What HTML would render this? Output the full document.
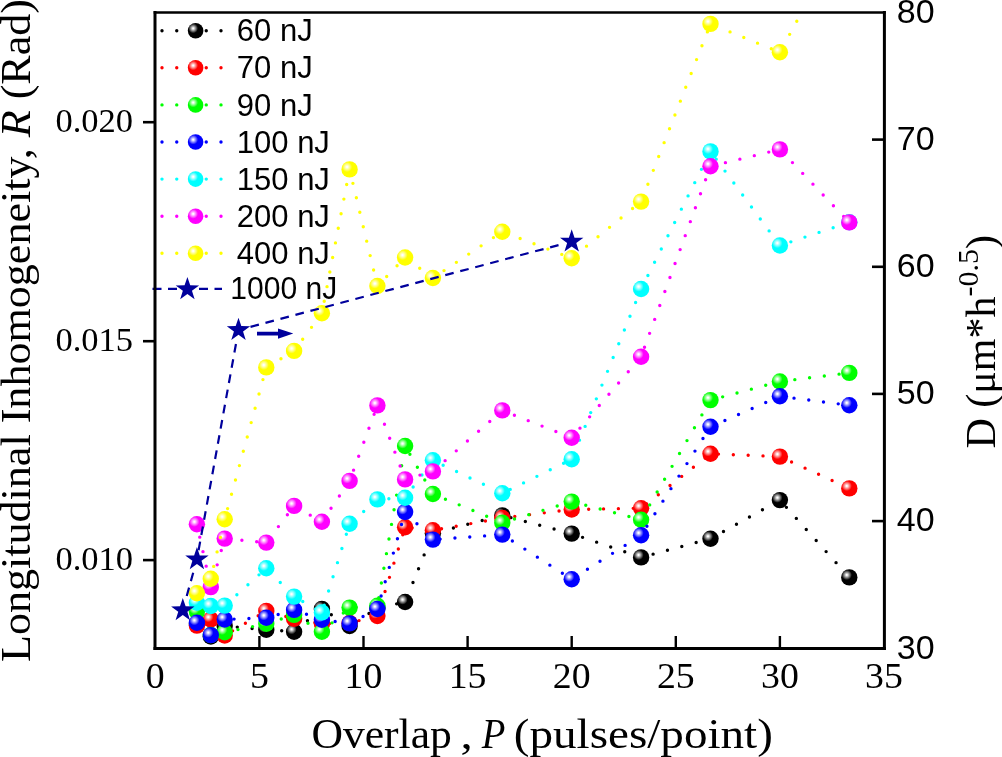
<!DOCTYPE html>
<html><head><meta charset="utf-8"><style>
html,body{margin:0;padding:0;background:#fff;width:1002px;height:757px;overflow:hidden}
svg{display:block}
.sans{font-family:"Liberation Sans",sans-serif}
.serif{font-family:"Liberation Serif",serif}
</style></head><body>
<svg style="will-change:transform" width="1002" height="757" viewBox="0 0 1002 757">
<defs>
<clipPath id="plot"><rect x="155.3" y="12.5" width="728.9" height="635.7"/></clipPath>

<radialGradient id="g000000" cx="0.345" cy="0.35" r="0.31" fx="0.345" fy="0.35"><stop offset="0" stop-color="#fff"/><stop offset="0.1" stop-color="#fff"/><stop offset="0.6" stop-color="#737373"/><stop offset="1" stop-color="#000000"/></radialGradient>
<radialGradient id="gff0000" cx="0.345" cy="0.35" r="0.31" fx="0.345" fy="0.35"><stop offset="0" stop-color="#fff"/><stop offset="0.1" stop-color="#fff"/><stop offset="0.6" stop-color="#ff7373"/><stop offset="1" stop-color="#ff0000"/></radialGradient>
<radialGradient id="g00ff00" cx="0.345" cy="0.35" r="0.31" fx="0.345" fy="0.35"><stop offset="0" stop-color="#fff"/><stop offset="0.1" stop-color="#fff"/><stop offset="0.6" stop-color="#73ff73"/><stop offset="1" stop-color="#00ff00"/></radialGradient>
<radialGradient id="g0000ff" cx="0.345" cy="0.35" r="0.31" fx="0.345" fy="0.35"><stop offset="0" stop-color="#fff"/><stop offset="0.1" stop-color="#fff"/><stop offset="0.6" stop-color="#7373ff"/><stop offset="1" stop-color="#0000ff"/></radialGradient>
<radialGradient id="g00ffff" cx="0.345" cy="0.35" r="0.31" fx="0.345" fy="0.35"><stop offset="0" stop-color="#fff"/><stop offset="0.1" stop-color="#fff"/><stop offset="0.6" stop-color="#73ffff"/><stop offset="1" stop-color="#00ffff"/></radialGradient>
<radialGradient id="gff00ff" cx="0.345" cy="0.35" r="0.31" fx="0.345" fy="0.35"><stop offset="0" stop-color="#fff"/><stop offset="0.1" stop-color="#fff"/><stop offset="0.6" stop-color="#ff73ff"/><stop offset="1" stop-color="#ff00ff"/></radialGradient>
<radialGradient id="gffff00" cx="0.345" cy="0.35" r="0.31" fx="0.345" fy="0.35"><stop offset="0" stop-color="#fff"/><stop offset="0.1" stop-color="#fff"/><stop offset="0.6" stop-color="#ffff73"/><stop offset="1" stop-color="#ffff00"/></radialGradient>
</defs>
<line x1="162" y1="30.7" x2="221.2" y2="30.7" stroke="#000000" stroke-width="3.4" stroke-linecap="round" stroke-dasharray="0 14.75"/>
<circle cx="195.6" cy="30.7" r="7.8" fill="url(#g000000)"/>
<text class="sans" x="236.8" y="41.3" font-size="31">60 nJ</text>
<line x1="162" y1="67.8" x2="221.2" y2="67.8" stroke="#ff0000" stroke-width="3.4" stroke-linecap="round" stroke-dasharray="0 14.75"/>
<circle cx="195.6" cy="67.8" r="7.8" fill="url(#gff0000)"/>
<text class="sans" x="236.8" y="78.4" font-size="31">70 nJ</text>
<line x1="162" y1="104.9" x2="221.2" y2="104.9" stroke="#00ff00" stroke-width="3.4" stroke-linecap="round" stroke-dasharray="0 14.75"/>
<circle cx="195.6" cy="104.9" r="7.8" fill="url(#g00ff00)"/>
<text class="sans" x="236.8" y="115.5" font-size="31">90 nJ</text>
<line x1="162" y1="142.0" x2="221.2" y2="142.0" stroke="#0000ff" stroke-width="3.4" stroke-linecap="round" stroke-dasharray="0 14.75"/>
<circle cx="195.6" cy="142.0" r="7.8" fill="url(#g0000ff)"/>
<text class="sans" x="236.8" y="152.6" font-size="31">100 nJ</text>
<line x1="162" y1="179.1" x2="221.2" y2="179.1" stroke="#00ffff" stroke-width="3.4" stroke-linecap="round" stroke-dasharray="0 14.75"/>
<circle cx="195.6" cy="179.1" r="7.8" fill="url(#g00ffff)"/>
<text class="sans" x="236.8" y="189.7" font-size="31">150 nJ</text>
<line x1="162" y1="216.2" x2="221.2" y2="216.2" stroke="#ff00ff" stroke-width="3.4" stroke-linecap="round" stroke-dasharray="0 14.75"/>
<circle cx="195.6" cy="216.2" r="7.8" fill="url(#gff00ff)"/>
<text class="sans" x="236.8" y="226.8" font-size="31">200 nJ</text>
<line x1="162" y1="253.3" x2="221.2" y2="253.3" stroke="#ffff00" stroke-width="3.4" stroke-linecap="round" stroke-dasharray="0 14.75"/>
<circle cx="195.6" cy="253.3" r="7.8" fill="url(#gffff00)"/>
<text class="sans" x="236.8" y="263.9" font-size="31">400 nJ</text>
<line x1="152.5" y1="288.8" x2="222" y2="288.8" stroke="#00009c" stroke-width="2.2" stroke-dasharray="9 6.5"/>
<path d="M187.40,276.90 L190.22,285.32 L199.10,285.40 L191.96,290.68 L194.63,299.15 L187.40,294.00 L180.17,299.15 L182.84,290.68 L175.70,285.40 L184.58,285.32 Z" fill="#00009c"/>
<text class="sans" transform="translate(230.3,299.2) scale(0.97,1)" x="0" y="0" font-size="31">1000 nJ</text>
<g clip-path="url(#plot)">
<polyline points="196.9,624.0 210.8,636.5 224.7,626.0 266.3,629.7 294.1,631.7 321.9,608.9 349.6,626.0 377.4,608.0 405.1,602.0 432.9,533.2 502.3,515.4 571.7,533.6 641.1,557.4 710.5,538.7 779.9,500.1 849.3,577.4" fill="none" stroke="#000000" stroke-width="3.4" stroke-linecap="round" stroke-dasharray="0 14.86" stroke-dashoffset="10.70"/>
<circle cx="196.9" cy="624.0" r="8.2" fill="url(#g000000)"/>
<circle cx="210.8" cy="636.5" r="8.2" fill="url(#g000000)"/>
<circle cx="224.7" cy="626.0" r="8.2" fill="url(#g000000)"/>
<circle cx="266.3" cy="629.7" r="8.2" fill="url(#g000000)"/>
<circle cx="294.1" cy="631.7" r="8.2" fill="url(#g000000)"/>
<circle cx="321.9" cy="608.9" r="8.2" fill="url(#g000000)"/>
<circle cx="349.6" cy="626.0" r="8.2" fill="url(#g000000)"/>
<circle cx="377.4" cy="608.0" r="8.2" fill="url(#g000000)"/>
<circle cx="405.1" cy="602.0" r="8.2" fill="url(#g000000)"/>
<circle cx="432.9" cy="533.2" r="8.2" fill="url(#g000000)"/>
<circle cx="502.3" cy="515.4" r="8.2" fill="url(#g000000)"/>
<circle cx="571.7" cy="533.6" r="8.2" fill="url(#g000000)"/>
<circle cx="641.1" cy="557.4" r="8.2" fill="url(#g000000)"/>
<circle cx="710.5" cy="538.7" r="8.2" fill="url(#g000000)"/>
<circle cx="779.9" cy="500.1" r="8.2" fill="url(#g000000)"/>
<circle cx="849.3" cy="577.4" r="8.2" fill="url(#g000000)"/>
<polyline points="196.9,625.6 210.8,619.5 224.7,635.5 266.3,610.9 294.1,618.8 321.9,623.8 349.6,623.0 377.4,616.0 405.1,527.3 432.9,530.3 502.3,518.0 571.7,509.5 641.1,508.2 710.5,453.8 779.9,456.6 849.3,488.4" fill="none" stroke="#ff0000" stroke-width="3.4" stroke-linecap="round" stroke-dasharray="0 14.86" stroke-dashoffset="13.89"/>
<circle cx="196.9" cy="625.6" r="8.2" fill="url(#gff0000)"/>
<circle cx="210.8" cy="619.5" r="8.2" fill="url(#gff0000)"/>
<circle cx="224.7" cy="635.5" r="8.2" fill="url(#gff0000)"/>
<circle cx="266.3" cy="610.9" r="8.2" fill="url(#gff0000)"/>
<circle cx="294.1" cy="618.8" r="8.2" fill="url(#gff0000)"/>
<circle cx="321.9" cy="623.8" r="8.2" fill="url(#gff0000)"/>
<circle cx="349.6" cy="623.0" r="8.2" fill="url(#gff0000)"/>
<circle cx="377.4" cy="616.0" r="8.2" fill="url(#gff0000)"/>
<circle cx="405.1" cy="527.3" r="8.2" fill="url(#gff0000)"/>
<circle cx="432.9" cy="530.3" r="8.2" fill="url(#gff0000)"/>
<circle cx="502.3" cy="518.0" r="8.2" fill="url(#gff0000)"/>
<circle cx="571.7" cy="509.5" r="8.2" fill="url(#gff0000)"/>
<circle cx="641.1" cy="508.2" r="8.2" fill="url(#gff0000)"/>
<circle cx="710.5" cy="453.8" r="8.2" fill="url(#gff0000)"/>
<circle cx="779.9" cy="456.6" r="8.2" fill="url(#gff0000)"/>
<circle cx="849.3" cy="488.4" r="8.2" fill="url(#gff0000)"/>
<polyline points="196.9,611.6 210.8,635.0 224.7,632.3 266.3,623.8 294.1,614.9 321.9,631.7 349.6,607.6 377.4,605.8 405.1,446.0 432.9,494.0 502.3,522.7 571.7,501.6 641.1,519.7 710.5,400.1 779.9,381.5 849.3,372.9" fill="none" stroke="#00ff00" stroke-width="3.4" stroke-linecap="round" stroke-dasharray="0 14.86" stroke-dashoffset="4.48"/>
<circle cx="196.9" cy="611.6" r="8.2" fill="url(#g00ff00)"/>
<circle cx="210.8" cy="635.0" r="8.2" fill="url(#g00ff00)"/>
<circle cx="224.7" cy="632.3" r="8.2" fill="url(#g00ff00)"/>
<circle cx="266.3" cy="623.8" r="8.2" fill="url(#g00ff00)"/>
<circle cx="294.1" cy="614.9" r="8.2" fill="url(#g00ff00)"/>
<circle cx="321.9" cy="631.7" r="8.2" fill="url(#g00ff00)"/>
<circle cx="349.6" cy="607.6" r="8.2" fill="url(#g00ff00)"/>
<circle cx="377.4" cy="605.8" r="8.2" fill="url(#g00ff00)"/>
<circle cx="405.1" cy="446.0" r="8.2" fill="url(#g00ff00)"/>
<circle cx="432.9" cy="494.0" r="8.2" fill="url(#g00ff00)"/>
<circle cx="502.3" cy="522.7" r="8.2" fill="url(#g00ff00)"/>
<circle cx="571.7" cy="501.6" r="8.2" fill="url(#g00ff00)"/>
<circle cx="641.1" cy="519.7" r="8.2" fill="url(#g00ff00)"/>
<circle cx="710.5" cy="400.1" r="8.2" fill="url(#g00ff00)"/>
<circle cx="779.9" cy="381.5" r="8.2" fill="url(#g00ff00)"/>
<circle cx="849.3" cy="372.9" r="8.2" fill="url(#g00ff00)"/>
<polyline points="196.9,622.7 210.8,635.1 224.7,619.5 266.3,617.8 294.1,609.9 321.9,619.8 349.6,623.4 377.4,609.0 405.1,512.0 432.9,539.6 502.3,534.6 571.7,579.2 641.1,535.3 710.5,426.8 779.9,396.3 849.3,405.3" fill="none" stroke="#0000ff" stroke-width="3.4" stroke-linecap="round" stroke-dasharray="0 14.86" stroke-dashoffset="10.54"/>
<circle cx="196.9" cy="622.7" r="8.2" fill="url(#g0000ff)"/>
<circle cx="210.8" cy="635.1" r="8.2" fill="url(#g0000ff)"/>
<circle cx="224.7" cy="619.5" r="8.2" fill="url(#g0000ff)"/>
<circle cx="266.3" cy="617.8" r="8.2" fill="url(#g0000ff)"/>
<circle cx="294.1" cy="609.9" r="8.2" fill="url(#g0000ff)"/>
<circle cx="321.9" cy="619.8" r="8.2" fill="url(#g0000ff)"/>
<circle cx="349.6" cy="623.4" r="8.2" fill="url(#g0000ff)"/>
<circle cx="377.4" cy="609.0" r="8.2" fill="url(#g0000ff)"/>
<circle cx="405.1" cy="512.0" r="8.2" fill="url(#g0000ff)"/>
<circle cx="432.9" cy="539.6" r="8.2" fill="url(#g0000ff)"/>
<circle cx="502.3" cy="534.6" r="8.2" fill="url(#g0000ff)"/>
<circle cx="571.7" cy="579.2" r="8.2" fill="url(#g0000ff)"/>
<circle cx="641.1" cy="535.3" r="8.2" fill="url(#g0000ff)"/>
<circle cx="710.5" cy="426.8" r="8.2" fill="url(#g0000ff)"/>
<circle cx="779.9" cy="396.3" r="8.2" fill="url(#g0000ff)"/>
<circle cx="849.3" cy="405.3" r="8.2" fill="url(#g0000ff)"/>
<polyline points="196.9,602.8 210.8,606.0 224.7,605.6 266.3,568.3 294.1,596.6 321.9,612.5 349.6,523.8 377.4,499.4 405.1,497.8 432.9,460.3 502.3,493.3 571.7,459.3 641.1,289.0 710.5,151.4 779.9,245.5 849.3,222.3" fill="none" stroke="#00ffff" stroke-width="3.4" stroke-linecap="round" stroke-dasharray="0 14.86" stroke-dashoffset="0.06"/>
<circle cx="196.9" cy="602.8" r="8.2" fill="url(#g00ffff)"/>
<circle cx="210.8" cy="606.0" r="8.2" fill="url(#g00ffff)"/>
<circle cx="224.7" cy="605.6" r="8.2" fill="url(#g00ffff)"/>
<circle cx="266.3" cy="568.3" r="8.2" fill="url(#g00ffff)"/>
<circle cx="294.1" cy="596.6" r="8.2" fill="url(#g00ffff)"/>
<circle cx="321.9" cy="612.5" r="8.2" fill="url(#g00ffff)"/>
<circle cx="349.6" cy="523.8" r="8.2" fill="url(#g00ffff)"/>
<circle cx="377.4" cy="499.4" r="8.2" fill="url(#g00ffff)"/>
<circle cx="405.1" cy="497.8" r="8.2" fill="url(#g00ffff)"/>
<circle cx="432.9" cy="460.3" r="8.2" fill="url(#g00ffff)"/>
<circle cx="502.3" cy="493.3" r="8.2" fill="url(#g00ffff)"/>
<circle cx="571.7" cy="459.3" r="8.2" fill="url(#g00ffff)"/>
<circle cx="641.1" cy="289.0" r="8.2" fill="url(#g00ffff)"/>
<circle cx="710.5" cy="151.4" r="8.2" fill="url(#g00ffff)"/>
<circle cx="779.9" cy="245.5" r="8.2" fill="url(#g00ffff)"/>
<circle cx="849.3" cy="222.3" r="8.2" fill="url(#g00ffff)"/>
<polyline points="196.9,524.2 210.8,587.1 224.7,538.6 266.3,542.6 294.1,505.9 321.9,521.8 349.6,480.9 377.4,405.4 405.1,479.4 432.9,471.4 502.3,410.4 571.7,437.8 641.1,356.7 710.5,166.3 779.9,149.4 849.3,222.4" fill="none" stroke="#ff00ff" stroke-width="3.4" stroke-linecap="round" stroke-dasharray="0 14.86" stroke-dashoffset="1.60"/>
<circle cx="196.9" cy="524.2" r="8.2" fill="url(#gff00ff)"/>
<circle cx="210.8" cy="587.1" r="8.2" fill="url(#gff00ff)"/>
<circle cx="224.7" cy="538.6" r="8.2" fill="url(#gff00ff)"/>
<circle cx="266.3" cy="542.6" r="8.2" fill="url(#gff00ff)"/>
<circle cx="294.1" cy="505.9" r="8.2" fill="url(#gff00ff)"/>
<circle cx="321.9" cy="521.8" r="8.2" fill="url(#gff00ff)"/>
<circle cx="349.6" cy="480.9" r="8.2" fill="url(#gff00ff)"/>
<circle cx="377.4" cy="405.4" r="8.2" fill="url(#gff00ff)"/>
<circle cx="405.1" cy="479.4" r="8.2" fill="url(#gff00ff)"/>
<circle cx="432.9" cy="471.4" r="8.2" fill="url(#gff00ff)"/>
<circle cx="502.3" cy="410.4" r="8.2" fill="url(#gff00ff)"/>
<circle cx="571.7" cy="437.8" r="8.2" fill="url(#gff00ff)"/>
<circle cx="641.1" cy="356.7" r="8.2" fill="url(#gff00ff)"/>
<circle cx="710.5" cy="166.3" r="8.2" fill="url(#gff00ff)"/>
<circle cx="779.9" cy="149.4" r="8.2" fill="url(#gff00ff)"/>
<circle cx="849.3" cy="222.4" r="8.2" fill="url(#gff00ff)"/>
<polyline points="196.9,593.3 210.8,578.8 224.7,519.2 266.3,367.4 294.1,350.9 321.9,313.3 349.6,169.4 377.4,286.0 405.1,257.5 432.9,278.0 502.3,231.7 571.7,258.2 641.1,201.6 710.5,23.9 779.9,52.3 849.3,-75.0" fill="none" stroke="#ffff00" stroke-width="3.4" stroke-linecap="round" stroke-dasharray="0 14.86" stroke-dashoffset="11.74"/>
<circle cx="196.9" cy="593.3" r="8.2" fill="url(#gffff00)"/>
<circle cx="210.8" cy="578.8" r="8.2" fill="url(#gffff00)"/>
<circle cx="224.7" cy="519.2" r="8.2" fill="url(#gffff00)"/>
<circle cx="266.3" cy="367.4" r="8.2" fill="url(#gffff00)"/>
<circle cx="294.1" cy="350.9" r="8.2" fill="url(#gffff00)"/>
<circle cx="321.9" cy="313.3" r="8.2" fill="url(#gffff00)"/>
<circle cx="349.6" cy="169.4" r="8.2" fill="url(#gffff00)"/>
<circle cx="377.4" cy="286.0" r="8.2" fill="url(#gffff00)"/>
<circle cx="405.1" cy="257.5" r="8.2" fill="url(#gffff00)"/>
<circle cx="432.9" cy="278.0" r="8.2" fill="url(#gffff00)"/>
<circle cx="502.3" cy="231.7" r="8.2" fill="url(#gffff00)"/>
<circle cx="571.7" cy="258.2" r="8.2" fill="url(#gffff00)"/>
<circle cx="641.1" cy="201.6" r="8.2" fill="url(#gffff00)"/>
<circle cx="710.5" cy="23.9" r="8.2" fill="url(#gffff00)"/>
<circle cx="779.9" cy="52.3" r="8.2" fill="url(#gffff00)"/>
<circle cx="849.3" cy="-75.0" r="8.2" fill="url(#gffff00)"/>
<line x1="185.21" y1="601.53" x2="194.53" y2="567.97" stroke="#00009c" stroke-width="2.2" stroke-dasharray="8.70 6.75" stroke-dashoffset="9.75"/>
<line x1="198.55" y1="550.44" x2="236.89" y2="338.86" stroke="#00009c" stroke-width="2.2" stroke-dasharray="8.70 6.75" stroke-dashoffset="15.20"/>
<line x1="247.20" y1="327.69" x2="563.00" y2="243.91" stroke="#00009c" stroke-width="2.2" stroke-dasharray="8.70 6.80" stroke-dashoffset="12.10"/>
<path d="M182.80,597.90 L185.62,606.32 L194.50,606.40 L187.36,611.68 L190.03,620.15 L182.80,615.00 L175.57,620.15 L178.24,611.68 L171.10,606.40 L179.98,606.32 Z" fill="#00009c"/>
<path d="M196.94,547.00 L199.76,555.42 L208.64,555.50 L201.50,560.78 L204.17,569.25 L196.94,564.10 L189.71,569.25 L192.38,560.78 L185.24,555.50 L194.12,555.42 Z" fill="#00009c"/>
<path d="M238.50,317.70 L241.32,326.12 L250.20,326.20 L243.06,331.48 L245.73,339.95 L238.50,334.80 L231.27,339.95 L233.94,331.48 L226.80,326.20 L235.68,326.12 Z" fill="#00009c"/>
<path d="M571.70,229.30 L574.52,237.72 L583.40,237.80 L576.26,243.08 L578.93,251.55 L571.70,246.40 L564.47,251.55 L567.14,243.08 L560.00,237.80 L568.88,237.72 Z" fill="#00009c"/>
</g>
<path d="M257,331.8 H278 V328.6 L293.3,333.6 L278,338.8 V335.4 H257 Z" fill="#00009c"/>
<line x1="155.0" y1="12.5" x2="155.0" y2="648.5" stroke="#000" stroke-width="3" stroke-linecap="square"/>
<line x1="884.4" y1="12.5" x2="884.4" y2="648.5" stroke="#000" stroke-width="3" stroke-linecap="square"/>
<line x1="155.0" y1="12.5" x2="884.4" y2="12.5" stroke="#000" stroke-width="2.6" stroke-linecap="square"/>
<line x1="155.0" y1="648.5" x2="884.4" y2="648.5" stroke="#000" stroke-width="3" stroke-linecap="square"/>
<line x1="259.4" y1="648.2" x2="259.4" y2="636" stroke="#000" stroke-width="2.4"/>
<line x1="363.5" y1="648.2" x2="363.5" y2="636" stroke="#000" stroke-width="2.4"/>
<line x1="467.6" y1="648.2" x2="467.6" y2="636" stroke="#000" stroke-width="2.4"/>
<line x1="571.7" y1="648.2" x2="571.7" y2="636" stroke="#000" stroke-width="2.4"/>
<line x1="675.8" y1="648.2" x2="675.8" y2="636" stroke="#000" stroke-width="2.4"/>
<line x1="779.9" y1="648.2" x2="779.9" y2="636" stroke="#000" stroke-width="2.4"/>
<line x1="143" y1="122.2" x2="155.3" y2="122.2" stroke="#000" stroke-width="2.6"/>
<line x1="143" y1="341.2" x2="155.3" y2="341.2" stroke="#000" stroke-width="2.6"/>
<line x1="143" y1="560.1" x2="155.3" y2="560.1" stroke="#000" stroke-width="2.6"/>
<line x1="872" y1="521.1" x2="884.2" y2="521.1" stroke="#000" stroke-width="2.6"/>
<line x1="872" y1="393.9" x2="884.2" y2="393.9" stroke="#000" stroke-width="2.6"/>
<line x1="872" y1="266.8" x2="884.2" y2="266.8" stroke="#000" stroke-width="2.6"/>
<line x1="872" y1="139.6" x2="884.2" y2="139.6" stroke="#000" stroke-width="2.6"/>
<text class="serif" transform="translate(155.3,688.3) scale(1.08,1)" x="0" y="0" font-size="35" text-anchor="middle">0</text>
<text class="serif" transform="translate(259.4,688.3) scale(1.08,1)" x="0" y="0" font-size="35" text-anchor="middle">5</text>
<text class="serif" transform="translate(363.5,688.3) scale(1.08,1)" x="0" y="0" font-size="35" text-anchor="middle">10</text>
<text class="serif" transform="translate(467.6,688.3) scale(1.08,1)" x="0" y="0" font-size="35" text-anchor="middle">15</text>
<text class="serif" transform="translate(571.7,688.3) scale(1.08,1)" x="0" y="0" font-size="35" text-anchor="middle">20</text>
<text class="serif" transform="translate(675.8,688.3) scale(1.08,1)" x="0" y="0" font-size="35" text-anchor="middle">25</text>
<text class="serif" transform="translate(779.9,688.3) scale(1.08,1)" x="0" y="0" font-size="35" text-anchor="middle">30</text>
<text class="serif" transform="translate(884.0,688.3) scale(1.08,1)" x="0" y="0" font-size="35" text-anchor="middle">35</text>
<text class="serif" x="133.0" y="131.8" font-size="34.5" text-anchor="end">0.020</text>
<text class="serif" x="133.0" y="350.8" font-size="34.5" text-anchor="end">0.015</text>
<text class="serif" x="133.0" y="569.7" font-size="34.5" text-anchor="end">0.010</text>
<text class="sans" x="896.8" y="658.5" font-size="34">30</text>
<text class="sans" x="896.8" y="531.4" font-size="34">40</text>
<text class="sans" x="896.8" y="404.2" font-size="34">50</text>
<text class="sans" x="896.8" y="277.1" font-size="34">60</text>
<text class="sans" x="896.8" y="149.9" font-size="34">70</text>
<text class="sans" x="896.8" y="22.8" font-size="34">80</text>
<text class="serif" transform="translate(311.40,747.9) scale(1.0390,1)" x="0" y="0" font-size="42" font-style="normal">Overlap</text>
<text class="serif" transform="translate(460.60,747.9) scale(1.1700,1)" x="0" y="0" font-size="42" font-style="normal">,</text>
<text class="serif" transform="translate(481.70,747.9) scale(0.9200,1)" x="0" y="0" font-size="42" font-style="italic">P</text>
<text class="serif" transform="translate(513.75,747.9) scale(1.1225,1)" x="0" y="0" font-size="42" font-style="normal">(pulses/point)</text>
<text class="serif" transform="translate(30,662) rotate(-90)" x="0" y="0" font-size="43" textLength="663" lengthAdjust="spacingAndGlyphs">Longitudinal Inhomogeneity, <tspan font-style="italic">R</tspan> (Rad)</text>
<text class="serif" transform="translate(995,448.5) rotate(-90)" x="0" y="0" font-size="42">D (μm*h<tspan font-size="30" dy="-17">-0.5</tspan><tspan dy="17">)</tspan></text>
</svg></body></html>
